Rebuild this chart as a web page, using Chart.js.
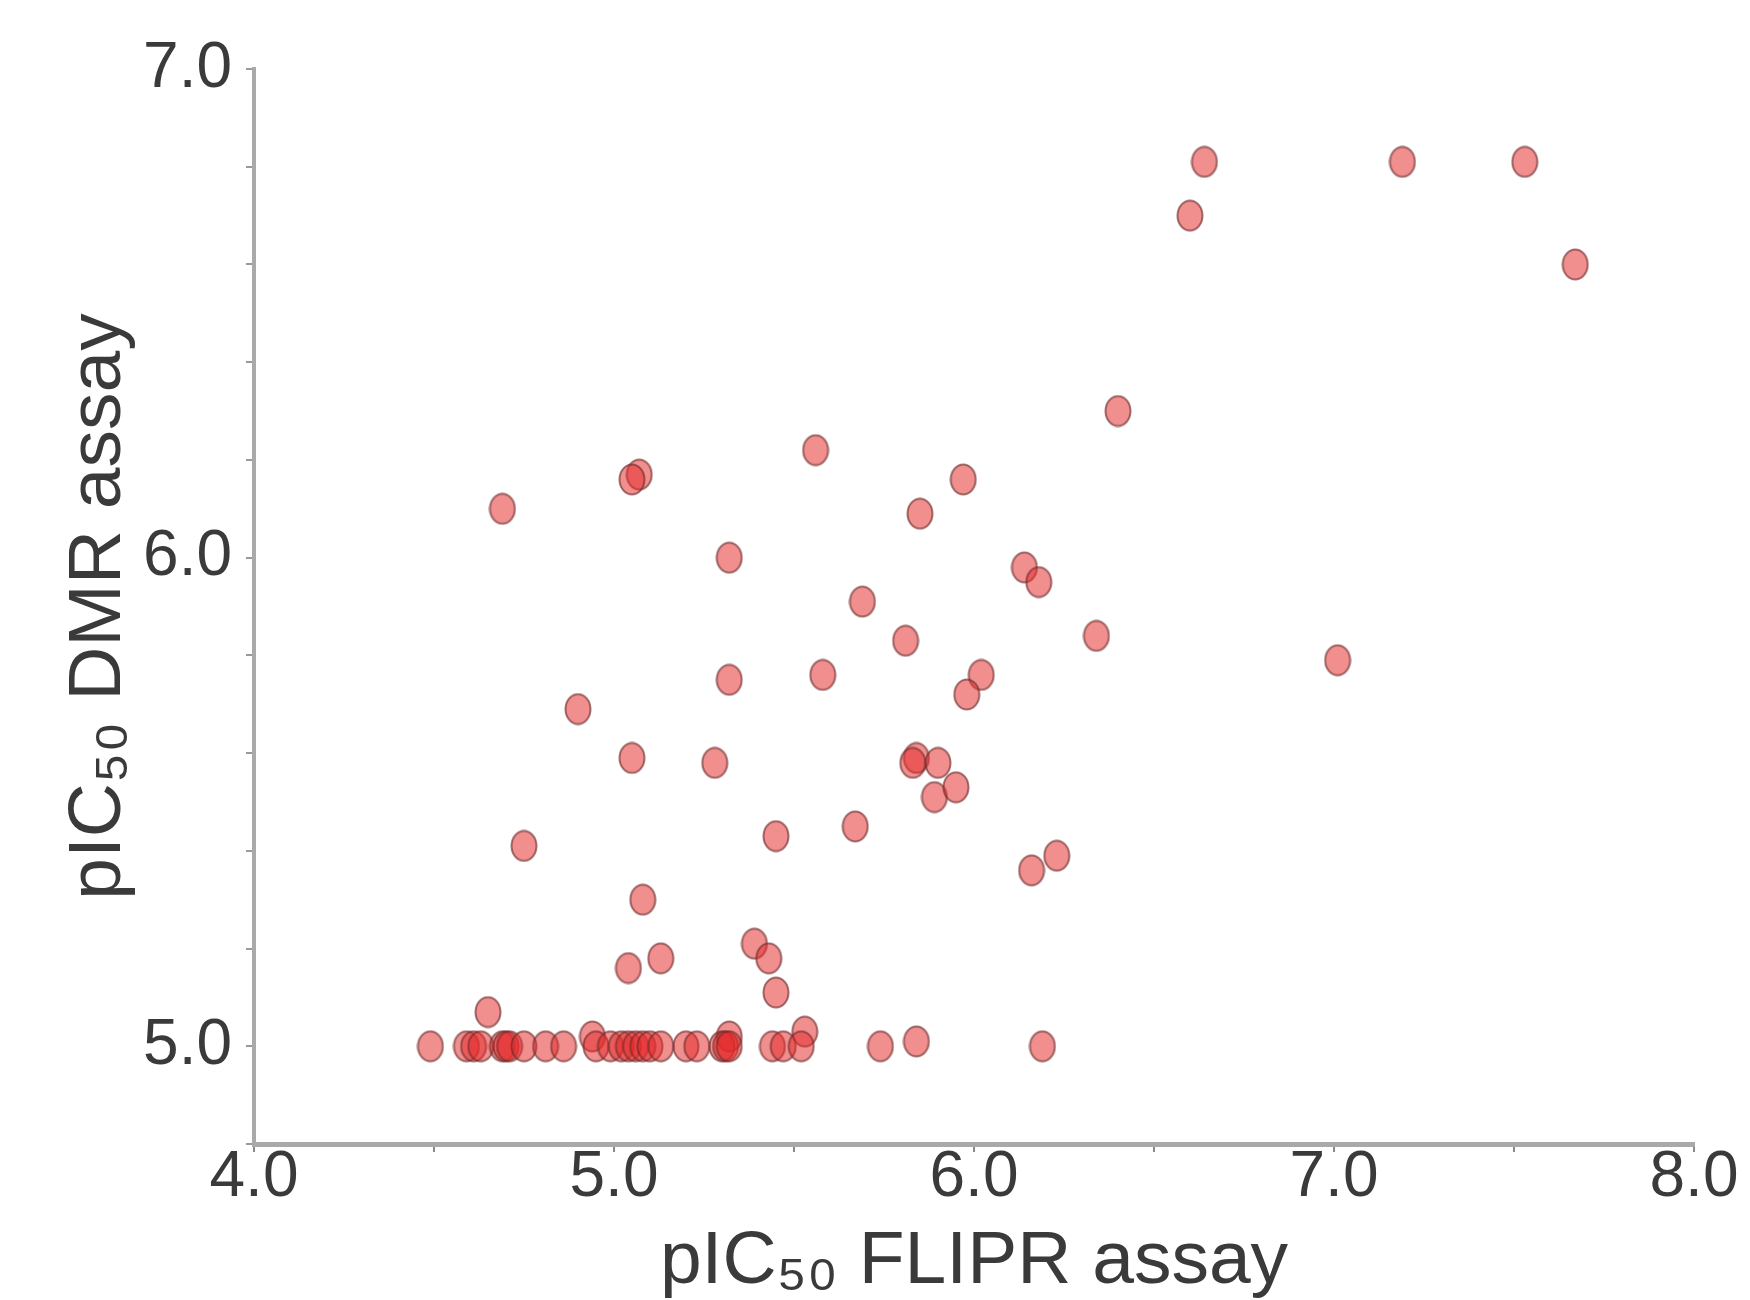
<!DOCTYPE html>
<html>
<head>
<meta charset="utf-8">
<script src="https://cdn.jsdelivr.net/npm/chart.js@4.4.0/dist/chart.umd.min.js"></script>
<style>
  body { margin: 0; background: #fff; }
  #wrap { width: 1750px; height: 1300px; }
</style>
</head>
<body>
<div id="wrap"><canvas id="scatter" width="1750" height="1300"></canvas></div>
<script>
// pIC50 values (x = FLIPR, y = DMR)
const fliprValues = [
  6.64, 7.19, 7.53, 6.60, 7.67, 6.40, 5.56, 5.07, 5.05, 5.97,
  4.69, 5.85, 5.32, 6.14, 6.18, 5.69, 5.81, 6.34, 7.01, 6.02,
  5.32, 5.58, 5.98, 4.90, 5.05, 5.28, 5.84, 5.83, 5.90, 5.89,
  5.95, 5.67, 5.45, 4.75, 6.23, 6.16, 5.08, 5.39, 5.13, 5.43,
  5.04, 5.45, 4.65, 5.53, 5.84, 5.32, 4.94,
  // compounds sitting on the 5.0 floor
  4.49, 4.59, 4.61, 4.63, 4.69, 4.70, 4.71, 4.75, 4.81, 4.86,
  4.95, 4.99, 5.02, 5.04, 5.06, 5.08, 5.10, 5.13, 5.20, 5.23,
  5.30, 5.31, 5.32, 5.44, 5.47, 5.52, 5.74, 6.19
];
const dmrValues = [
  6.81, 6.81, 6.81, 6.70, 6.60, 6.30, 6.22, 6.17, 6.16, 6.16,
  6.10, 6.09, 6.00, 5.98, 5.95, 5.91, 5.83, 5.84, 5.79, 5.76,
  5.75, 5.76, 5.72, 5.69, 5.59, 5.58, 5.59, 5.58, 5.58, 5.51,
  5.53, 5.45, 5.43, 5.41, 5.39, 5.36, 5.30, 5.21, 5.18, 5.18,
  5.16, 5.11, 5.07, 5.03, 5.01, 5.02, 5.02,
  5.00, 5.00, 5.00, 5.00, 5.00, 5.00, 5.00, 5.00, 5.00, 5.00,
  5.00, 5.00, 5.00, 5.00, 5.00, 5.00, 5.00, 5.00, 5.00, 5.00,
  5.00, 5.00, 5.00, 5.00, 5.00, 5.00, 5.00, 5.00
];
const xTicks = [4.0, 5.0, 6.0, 7.0, 8.0];
const yTicks = [5.0, 6.0, 7.0];

// slightly tall oval marker like the original figure
function makeMarker(w, h) {
  const c = document.createElement("canvas");
  c.width = w;
  c.height = h;
  const g = c.getContext("2d");
  g.beginPath();
  g.ellipse(w / 2, h / 2, w / 2 - 1.5, h / 2 - 1.5, 0, 0, Math.PI * 2);
  g.fillStyle = "rgba(228, 40, 40, 0.52)";
  g.fill();
  g.lineWidth = 2;
  g.strokeStyle = "rgba(110, 45, 45, 0.65)";
  g.stroke();
  return c;
}

const points = fliprValues.map((x, i) => ({ x: x, y: dmrValues[i] }));
const tickFont = { family: "'Liberation Sans Narrow', 'Liberation Sans', Arial, sans-serif", size: 64 };
const onTick = (list) => (v) => (list.some((t) => Math.abs(t - v) < 1e-6) ? v.toFixed(1) : "");

new Chart(document.getElementById("scatter"), {
  type: "scatter",
  data: {
    datasets: [
      {
        data: points,
        pointStyle: makeMarker(28, 33),
        pointRadius: 14,
      },
    ],
  },
  options: {
    responsive: false,
    animation: false,
    layout: { padding: { top: 69, right: 56, bottom: 0, left: 0 } },
    plugins: { legend: { display: false }, tooltip: { enabled: false } },
    scales: {
      x: {
        type: "linear",
        min: 4,
        max: 8,
        afterFit: (s) => { s.height = 156; },
        border: { color: "#a9a9a9", width: 5 },
        grid: { drawOnChartArea: false, drawTicks: true, tickLength: 8, color: "#8a8a8a", lineWidth: 2 },
        ticks: { stepSize: 0.5, padding: -12, color: "#3a3a3a", font: tickFont, callback: onTick(xTicks) },
        title: {
          display: true,
          text: "pIC\u2085\u2080 FLIPR assay",
          color: "#3a3a3a",
          font: { family: "'Liberation Sans', Arial, sans-serif", size: 75, lineHeight: 1.1 },
          padding: { top: 0, bottom: -4 },
        },
      },
      y: {
        type: "linear",
        min: 4.8,
        max: 7,
        afterFit: (s) => { s.width = 254; },
        border: { color: "#a9a9a9", width: 4 },
        grid: { drawOnChartArea: false, drawTicks: true, tickLength: 8, color: "#9a9a9a", lineWidth: 2 },
        ticks: { stepSize: 0.2, padding: 14, color: "#3a3a3a", font: tickFont, callback: onTick(yTicks) },
        title: {
          display: true,
          text: "pIC\u2085\u2080 DMR assay",
          color: "#3a3a3a",
          font: { family: "'Liberation Sans', Arial, sans-serif", size: 75, lineHeight: 1.1 },
          padding: { top: 58, bottom: 0 },
        },
      },
    },
  },
});
</script>
</body>
</html>
